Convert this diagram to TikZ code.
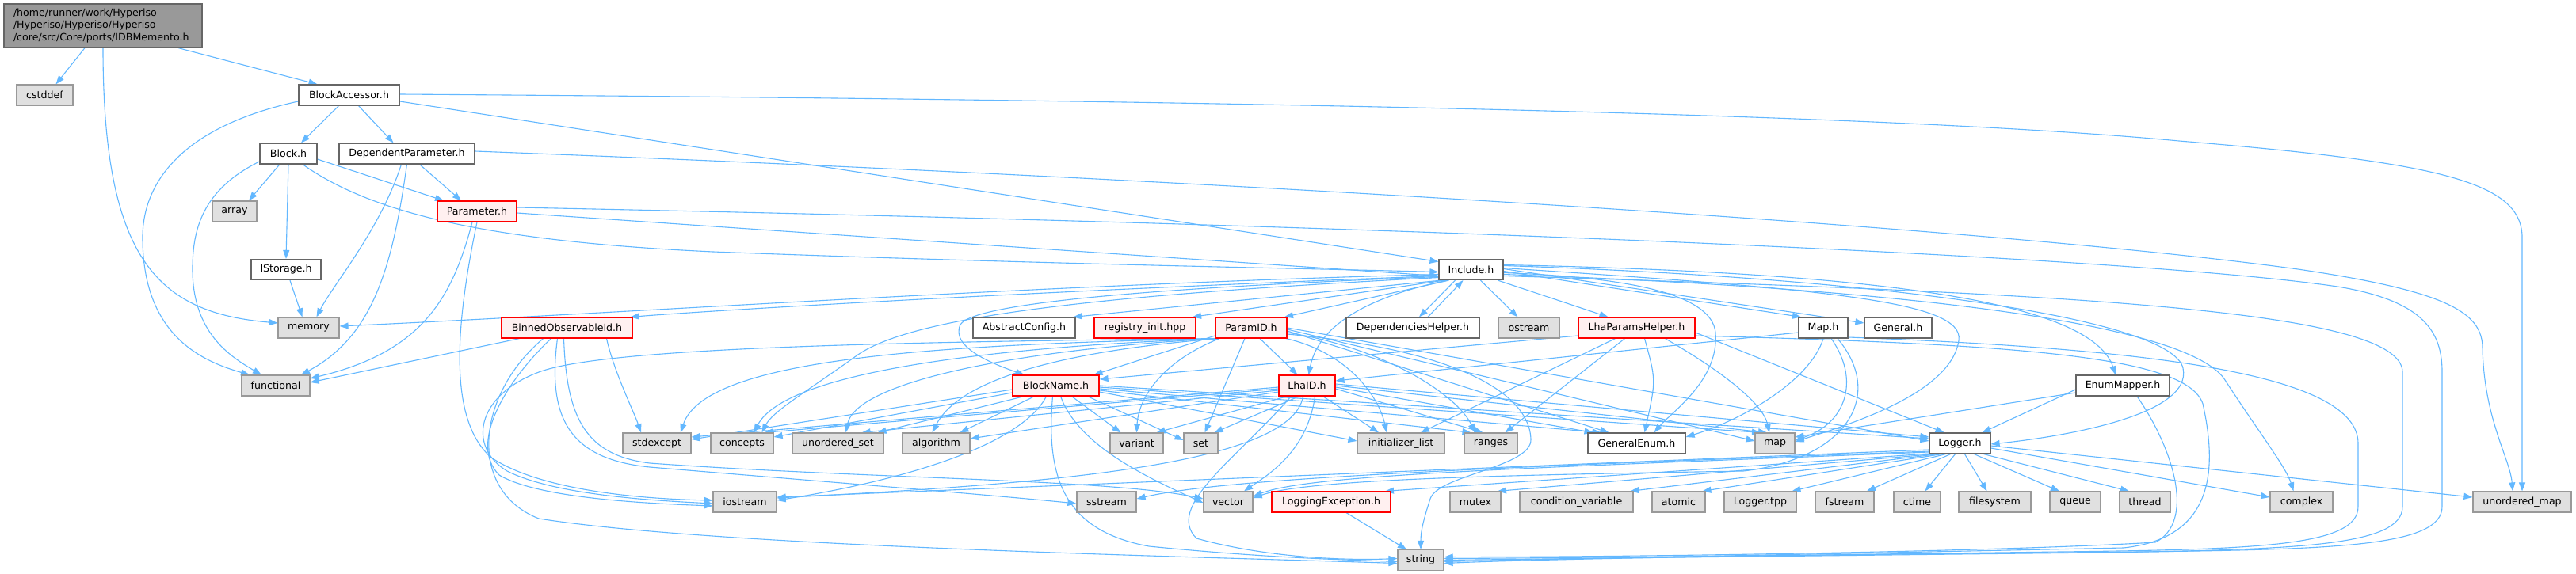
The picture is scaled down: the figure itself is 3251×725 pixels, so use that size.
\documentclass[tikz,border=0pt]{standalone}
\usepackage{fontspec}
\setmainfont{DejaVu Sans}
\usetikzlibrary{arrows.meta}
\definecolor{edgeblue}{HTML}{63B8FF}
\definecolor{redfill}{HTML}{FFF0F0}
\definecolor{grayfill}{HTML}{E0E0E0}
\definecolor{graybord}{HTML}{999999}
\definecolor{darkbord}{HTML}{666666}
\definecolor{titlefill}{HTML}{999999}
\pgfdeclarelayer{back}
\pgfdeclarelayer{edges}
\pgfsetlayers{back,edges,main}
\tikzset{
 nbox/.style={draw, line width=1.2pt, minimum height=26pt, inner sep=0pt, font=\fontsize{12.6}{15.3}\selectfont, text=black},
 wbox/.style={nbox, draw=darkbord, fill=white},
 gbox/.style={nbox, draw=graybord, fill=grayfill},
 rbox/.style={nbox, draw=red, fill=redfill},
 dep/.style={draw=edgeblue, line width=1.1pt, -{Triangle[length=11pt,width=8pt]}},
}
\begin{document}
\begin{tikzpicture}[x=1pt,y=-1pt]
\begin{pgfonlayer}{back}
\fill[white] (0,0) rectangle (3251,725);
\end{pgfonlayer}
\useasboundingbox (0,0) rectangle (3251,725);
% nodes
\node[nbox, draw=darkbord, fill=titlefill, minimum width=250pt, minimum height=55pt, align=left, text width=226pt] (title) at (130,32.5) {/home/runner/work/Hyperiso\\/Hyperiso/Hyperiso/Hyperiso\\/core/src/Core/ports/IDBMemento.h};
\node[gbox, minimum width=71pt] (cstddef) at (56.5,120) {cstddef};
\node[wbox, minimum width=127pt] (BA) at (440.5,120) {BlockAccessor.h};
\node[wbox, minimum width=72pt] (Block) at (364,194) {Block.h};
\node[wbox, minimum width=171pt] (DP) at (513.5,194) {DependentParameter.h};
\node[gbox, minimum width=56pt] (array) at (296,267) {array};
\node[rbox, minimum width=100pt] (Param) at (602,267) {Parameter.h};
\node[wbox, minimum width=88pt] (IStorage) at (361,340.5) {IStorage.h};
\node[wbox, minimum width=81pt] (Include) at (1856.5,340.5) {Include.h};
\node[gbox, minimum width=77pt] (memory) at (389.5,414) {memory};
\node[rbox, minimum width=165pt] (BOI) at (715.5,414) {BinnedObservableId.h};
\node[wbox, minimum width=129pt] (AC) at (1292.5,414) {AbstractConfig.h};
\node[rbox, minimum width=128pt] (RI) at (1445,414) {registry\_init.hpp};
\node[rbox, minimum width=90pt] (PID) at (1579,414) {ParamID.h};
\node[wbox, minimum width=168pt] (DH) at (1783,414) {DependenciesHelper.h};
\node[gbox, minimum width=77pt] (ostream) at (1929.5,414) {ostream};
\node[rbox, minimum width=147pt] (LPH) at (2065.5,414) {LhaParamsHelper.h};
\node[wbox, minimum width=62pt] (Map) at (2301,414) {Map.h};
\node[wbox, minimum width=85pt] (General) at (2395.5,414) {General.h};
\node[gbox, minimum width=86pt] (functional) at (348,487) {functional};
\node[rbox, minimum width=109pt] (BN) at (1332.5,487) {BlockName.h};
\node[rbox, minimum width=71pt] (LhaID) at (1649.5,487) {LhaID.h};
\node[wbox, minimum width=118pt] (EM) at (2679,487) {EnumMapper.h};
\node[gbox, minimum width=86pt] (stdexcept) at (829,560) {stdexcept};
\node[gbox, minimum width=79pt] (concepts) at (936.5,560) {concepts};
\node[gbox, minimum width=115pt] (uset) at (1057.5,560) {unordered\_set};
\node[gbox, minimum width=85pt] (algorithm) at (1181.5,560) {algorithm};
\node[gbox, minimum width=67pt] (variant) at (1434.5,560) {variant};
\node[gbox, minimum width=43pt] (set) at (1515.5,560) {set};
\node[gbox, minimum width=110pt] (ilist) at (1768,560) {initializer\_list};
\node[gbox, minimum width=67pt] (ranges) at (1881.5,560) {ranges};
\node[wbox, minimum width=123pt] (GE) at (2065.5,560) {GeneralEnum.h};
\node[gbox, minimum width=50pt] (map) at (2240,560) {map};
\node[wbox, minimum width=77pt] (Logger) at (2473.5,560) {Logger.h};
\node[gbox, minimum width=80pt] (iostream) at (940,634) {iostream};
\node[gbox, minimum width=75pt] (sstream) at (1396.5,634) {sstream};
\node[gbox, minimum width=62pt] (vector) at (1550,634) {vector};
\node[rbox, minimum width=150pt] (LE) at (1680,634) {LoggingException.h};
\node[gbox, minimum width=64pt] (mutex) at (1862,634) {mutex};
\node[gbox, minimum width=143pt] (cv) at (1989.5,634) {condition\_variable};
\node[gbox, minimum width=67pt] (atomic) at (2118.5,634) {atomic};
\node[gbox, minimum width=91pt] (tpp) at (2221.5,634) {Logger.tpp};
\node[gbox, minimum width=74pt] (fstream) at (2328,634) {fstream};
\node[gbox, minimum width=59pt] (ctime) at (2419.5,634) {ctime};
\node[gbox, minimum width=91pt] (filesystem) at (2517.5,634) {filesystem};
\node[gbox, minimum width=64pt] (queue) at (2619,634) {queue};
\node[gbox, minimum width=64pt] (thread) at (2707,634) {thread};
\node[gbox, minimum width=79pt] (complex) at (2904.5,634) {complex};
\node[gbox, minimum width=124pt] (umap) at (3183,634) {unordered\_map};
\node[gbox, minimum width=58pt] (string) at (1793,707.5) {string};
\begin{pgfonlayer}{edges}
% title
\draw[dep] ([xshift=-23pt]title.south) -- ([xshift=14pt]cstddef.north);
\draw[dep] ([xshift=95pt]title.south) -- ([xshift=-40pt]BA.north);
\draw[dep] (title.south) .. controls (130,330) and (200,395) .. ([yshift=6pt]memory.west);
% BlockAccessor
\draw[dep] ([yshift=-8pt]BA.west) .. controls (230,160) and (180,230) .. (180,300) .. controls (180,420) and (250,455) .. ([xshift=-33pt]functional.north);
\draw[dep] ([xshift=-13pt]BA.south) -- ([xshift=16pt]Block.north);
\draw[dep] ([xshift=12pt]BA.south) -- ([xshift=-17pt]DP.north);
\draw[dep] ([yshift=-8pt]BA.east) -- ([yshift=10pt]Include.west);
\draw[dep] ([yshift=1pt]BA.east) .. controls (1800,128) and (2450,150) .. (2750,178) .. controls (3080,205) and (3183,230) .. (3183,300) -- (umap.north);
% Block
\draw[dep] ([xshift=-11pt]Block.south) -- ([xshift=18pt]array.north);
\draw[dep] (Block.south) -- (IStorage.north);
\draw[dep] ([yshift=-7pt]Block.east) -- ([xshift=-42pt]Param.north);
\draw[dep] ([yshift=-10pt]Block.west) .. controls (255,240) and (243,290) .. (243,340) .. controls (243,420) and (290,450) .. ([xshift=-18pt]functional.north);
\draw[dep] ([xshift=18pt]Block.south) .. controls (470,270) and (620,305) .. (900,318) .. controls (1300,333) and (1600,338) .. ([yshift=-3pt]Include.west);
% DependentParameter
\draw[dep] ([xshift=16pt]DP.south) -- ([xshift=-20pt]Param.north);
\draw[dep] ([xshift=-7pt]DP.south) .. controls (480,290) and (420,360) .. ([xshift=10pt]memory.north);
\draw[dep] (DP.south) .. controls (495,340) and (470,425) .. ([xshift=32pt]functional.north);
\draw[dep] ([yshift=3pt]DP.east) .. controls (1500,225) and (2500,285) .. (2900,340) .. controls (3090,368) and (3133,395) .. (3133,440) .. controls (3135,530) and (3168,580) .. ([xshift=-12pt]umap.north);
% IStorage
\draw[dep] ([xshift=5pt]IStorage.south) -- ([xshift=-8pt]memory.north);
% Parameter
\draw[dep] ([yshift=-2pt]Param.east) -- ([yshift=-8pt]Include.west);
\draw[dep] ([yshift=5pt]Param.east) .. controls (1800,285) and (2700,325) .. (2950,362) .. controls (3060,380) and (3082,420) .. (3082,470) -- (3082,640) .. controls (3082,690) and (2950,694) .. (2700,697) .. controls (2200,702) and (1950,705) .. ([yshift=2pt]string.east);
\draw[dep] ([xshift=-6pt]Param.south) .. controls (570,380) and (530,445) .. ([yshift=9pt]functional.east);
\draw[dep] (Param.south) .. controls (575,410) and (565,530) .. (620,578) .. controls (680,618) and (800,630) .. ([yshift=2pt]iostream.west);
% Include
\draw[dep] ([yshift=-6pt]Include.west) .. controls (1300,360) and (800,395) .. ([yshift=2pt]memory.east);
\draw[dep] ([yshift=-8pt]Include.west) .. controls (1300,368) and (900,392) .. ([xshift=80pt]BOI.north);
\draw[dep] ([xshift=-38pt]Include.south) -- ([xshift=62pt]AC.north);
\draw[dep] ([xshift=-34pt]Include.south) -- ([xshift=60pt]RI.north);
\draw[dep] ([xshift=-28pt]Include.south) -- ([xshift=42pt]PID.north);
\draw[dep] ([xshift=-20pt]Include.south) -- ([xshift=8pt]DH.north);
\draw[dep] ([xshift=19pt]DH.north) -- ([xshift=-10pt]Include.south);
\draw[dep] ([xshift=12pt]Include.south) -- ([xshift=-14pt]ostream.north);
\draw[dep] ([xshift=34pt]Include.south) -- ([xshift=-36pt]LPH.north);
\draw[dep] ([yshift=-2pt]Include.east) -- ([xshift=-28pt]Map.north);
\draw[dep] ([yshift=1pt]Include.east) -- ([yshift=6pt]General.west);
\draw[dep] ([yshift=-9pt]Include.west) .. controls (1500,362) and (1230,380) .. (1212,410) .. controls (1198,440) and (1260,462) .. ([xshift=-40pt]BN.north);
\draw[dep] ([xshift=-30pt]Include.south) .. controls (1740,372) and (1665,405) .. ([xshift=2pt]LhaID.north);
\draw[dep] ([yshift=-10pt]Include.west) .. controls (1400,372) and (1150,398) .. (1080,450) .. controls (1010,500) and (975,520) .. ([xshift=25pt]concepts.north);
\draw[dep] ([yshift=-4pt]Include.east) .. controls (2050,350) and (2160,370) .. (2165,420) .. controls (2170,480) and (2110,520) .. ([xshift=22pt]GE.north);
\draw[dep] ([yshift=2pt]Include.east) .. controls (2300,365) and (2480,380) .. (2472,430) .. controls (2462,500) and (2320,540) .. ([yshift=2pt]map.east);
\draw[dep] ([yshift=5pt]Include.east) .. controls (2400,352) and (2742,405) .. (2755,465) .. controls (2768,525) and (2600,552) .. ([yshift=-1pt]Logger.east);
\draw[dep] ([yshift=6pt]Include.east) .. controls (2400,345) and (2640,385) .. ([xshift=-9pt]EM.north);
\draw[dep] ([yshift=-6pt]Include.east) .. controls (2500,368) and (2770,420) .. (2808,480) .. controls (2850,545) and (2885,590) .. ([xshift=-10pt]complex.north);
\draw[dep] ([yshift=-8pt]Include.east) .. controls (2600,370) and (3032,390) .. (3032,470) -- (3032,640) .. controls (3032,690) and (2900,694) .. (2650,698) .. controls (2200,703) and (1950,706) .. (string.east);
% ParamID
\draw[dep] ([yshift=-10pt]PID.west) -- ([xshift=48pt]BN.north);
\draw[dep] ([xshift=11pt]PID.south) -- ([xshift=-12pt]LhaID.north);
\draw[dep] ([xshift=-40pt]PID.south) .. controls (1470,455) and (1437,500) .. (variant.north);
\draw[dep] ([xshift=-8pt]PID.south) -- ([xshift=5pt]set.north);
\draw[dep] ([xshift=44pt]PID.south) .. controls (1700,445) and (1740,500) .. ([xshift=-18pt]ilist.north);
\draw[dep] ([yshift=-6pt]PID.east) .. controls (1750,440) and (1840,500) .. ([xshift=-20pt]ranges.north);
\draw[dep] ([yshift=-4pt]PID.east) -- ([xshift=-35pt]GE.north);
\draw[dep] ([yshift=-2pt]PID.east) -- ([yshift=3pt]map.west);
\draw[dep] (PID.east) -- ([yshift=3pt]Logger.west);
\draw[dep] ([xshift=-42pt]PID.south) .. controls (1200,435) and (890,450) .. ([xshift=30pt]stdexcept.north);
\draw[dep] ([xshift=-42pt]PID.south) .. controls (1250,438) and (990,470) .. ([xshift=15pt]concepts.north);
\draw[dep] ([xshift=-41pt]PID.south) .. controls (1300,440) and (1080,480) .. ([xshift=10pt]uset.north);
\draw[dep] ([xshift=-40pt]PID.south) .. controls (1380,440) and (1215,470) .. ([xshift=-5pt]algorithm.north);
\draw[dep] ([xshift=-44pt]PID.south) .. controls (1100,432) and (760,440) .. (680,470) .. controls (600,500) and (590,565) .. (640,595) .. controls (700,625) and (820,632) .. ([yshift=-2pt]iostream.west);
\draw[dep] ([yshift=-8pt]PID.east) .. controls (1820,440) and (1930,490) .. (1932,555) .. controls (1933,590) and (1815,600) .. (1805,630) .. controls (1797,655) and (1793,670) .. (string.north);
% BlockName
\draw[dep] ([yshift=-5pt]BN.west) -- ([yshift=5pt]stdexcept.east);
\draw[dep] ([yshift=-9pt]BN.west) -- ([yshift=8pt]concepts.east);
\draw[dep] ([xshift=-40pt]BN.south) -- ([xshift=50pt]uset.north);
\draw[dep] ([xshift=-27pt]BN.south) -- ([xshift=30pt]algorithm.north);
\draw[dep] ([xshift=20pt]BN.south) -- ([xshift=-20pt]variant.north);
\draw[dep] ([xshift=40pt]BN.south) -- ([yshift=4pt]set.west);
\draw[dep] ([xshift=-12pt]BN.south) .. controls (1290,560) and (1150,605) .. ([yshift=2pt]iostream.east);
\draw[dep] ([xshift=6pt]BN.south) .. controls (1360,560) and (1440,600) .. ([yshift=-1pt]vector.west);
\draw[dep] ([xshift=-4pt]BN.south) .. controls (1320,600) and (1340,670) .. (1450,690) .. controls (1600,705) and (1700,707) .. ([yshift=-2pt]string.west);
\draw[dep] ([yshift=-8pt]BN.east) -- ([yshift=3pt]ilist.west);
\draw[dep] ([yshift=-6pt]BN.east) -- ([xshift=-25pt]ranges.north);
\draw[dep] ([yshift=-4pt]BN.east) -- ([xshift=-45pt]GE.north);
\draw[dep] ([yshift=-2pt]BN.east) -- ([xshift=-18pt]map.north);
\draw[dep] (BN.east) -- ([yshift=6pt]Logger.west);
% LhaID
\draw[dep] ([yshift=-2pt]LhaID.west) -- ([yshift=8pt]stdexcept.east);
\draw[dep] ([yshift=-4pt]LhaID.west) -- ([xshift=28pt]concepts.north);
\draw[dep] ([yshift=-6pt]LhaID.west) -- ([xshift=30pt]uset.north);
\draw[dep] ([yshift=-8pt]LhaID.west) -- ([yshift=6pt]algorithm.east);
\draw[dep] ([xshift=-25pt]LhaID.south) -- ([xshift=25pt]variant.north);
\draw[dep] ([xshift=-10pt]LhaID.south) -- ([xshift=17pt]set.north);
\draw[dep] ([xshift=20pt]LhaID.south) -- ([xshift=-28pt]ilist.north);
\draw[dep] ([yshift=-4pt]LhaID.east) -- ([xshift=-10pt]ranges.north);
\draw[dep] ([yshift=-2pt]LhaID.east) -- ([xshift=-55pt]GE.north);
\draw[dep] (LhaID.east) -- ([xshift=-10pt]map.north);
\draw[dep] ([yshift=2pt]LhaID.east) -- ([yshift=8pt]Logger.west);
\draw[dep] ([xshift=-5pt]LhaID.south) .. controls (1630,590) and (1300,612) .. ([yshift=5pt]iostream.east);
\draw[dep] ([xshift=-20pt]LhaID.south) .. controls (1560,580) and (1470,640) .. (1510,680) .. controls (1600,705) and (1700,708) .. ([yshift=2pt]string.west);
\draw[dep] ([xshift=10pt]LhaID.south) .. controls (1650,570) and (1600,600) .. ([xshift=20pt]vector.north);
% LhaParamsHelper
\draw[dep] ([yshift=-10pt]LPH.west) -- ([yshift=8pt]BN.east);
\draw[dep] ([xshift=-27pt]LPH.south) -- ([xshift=25pt]ilist.north);
\draw[dep] ([xshift=-15pt]LPH.south) -- ([xshift=18pt]ranges.north);
\draw[dep] ([xshift=10pt]LPH.south) .. controls (2090,480) .. ([xshift=10pt]GE.north);
\draw[dep] ([xshift=36pt]LPH.south) .. controls (2175,470) and (2225,510) .. ([xshift=-7pt]map.north);
\draw[dep] ([yshift=-6pt]LPH.east) -- ([xshift=-20pt]Logger.north);
\draw[dep] ([yshift=-10pt]LPH.east) .. controls (2550,435) and (2760,450) .. (2780,510) .. controls (2800,600) and (2790,680) .. (2680,692) .. controls (2300,700) and (1950,706) .. ([yshift=-2pt]string.east);
% Map
\draw[dep] ([yshift=-6pt]Map.west) -- ([yshift=6pt]LhaID.east);
\draw[dep] (Map.south) .. controls (2285,480) and (2200,530) .. ([yshift=8pt]GE.east);
\draw[dep] ([xshift=10pt]Map.south) .. controls (2348,480) and (2330,535) .. ([yshift=4pt]map.east);
\draw[dep] ([xshift=18pt]Map.south) .. controls (2380,500) and (2330,580) .. (2200,595) .. controls (1900,600) and (1650,605) .. ([yshift=5pt]vector.east);
\draw[dep] ([yshift=-12pt]Map.east) .. controls (2700,440) and (2976,470) .. (2976,560) -- (2976,640) .. controls (2976,690) and (2850,694) .. (2600,697) .. controls (2200,702) and (1950,706) .. ([yshift=-4pt]string.east);
% EnumMapper
\draw[dep] ([yshift=-5pt]EM.west) -- ([xshift=28pt]Logger.north);
\draw[dep] ([yshift=-9pt]EM.west) -- ([yshift=8pt]map.east);
\draw[dep] ([xshift=18pt]EM.south) .. controls (2745,570) and (2770,660) .. (2720,685) .. controls (2500,698) and (2000,704) .. ([yshift=4pt]string.east);
% Logger
\draw[dep] ([yshift=-8pt]Logger.west) -- ([yshift=6pt]iostream.east);
\draw[dep] ([yshift=-10pt]Logger.west) .. controls (1900,590) and (1550,603) .. ([yshift=4pt]sstream.east);
\draw[dep] ([yshift=-11pt]Logger.west) .. controls (1900,592) and (1650,600) .. ([yshift=7pt]vector.east);
\draw[dep] ([yshift=-13pt]Logger.west) -- ([xshift=68pt]LE.north);
\draw[dep] ([xshift=-33pt]Logger.south) -- ([xshift=28pt]mutex.north);
\draw[dep] ([xshift=-28pt]Logger.south) -- ([xshift=68pt]cv.north);
\draw[dep] ([xshift=-23pt]Logger.south) -- ([xshift=30pt]atomic.north);
\draw[dep] ([xshift=-18pt]Logger.south) -- ([xshift=40pt]tpp.north);
\draw[dep] ([xshift=-12pt]Logger.south) -- ([xshift=28pt]fstream.north);
\draw[dep] ([xshift=-6pt]Logger.south) -- ([xshift=10pt]ctime.north);
\draw[dep] ([xshift=6pt]Logger.south) -- ([xshift=-10pt]filesystem.north);
\draw[dep] ([xshift=18pt]Logger.south) -- ([xshift=-20pt]queue.north);
\draw[dep] ([xshift=30pt]Logger.south) -- ([xshift=-20pt]thread.north);
\draw[dep] ([yshift=-6pt]Logger.east) -- ([yshift=6pt]complex.west);
\draw[dep] ([yshift=-3pt]Logger.east) -- ([yshift=6pt]umap.west);
% BinnedObservableId
\draw[dep] ([xshift=-60pt]BOI.south) -- ([yshift=4pt]functional.east);
\draw[dep] ([xshift=50pt]BOI.south) .. controls (775,470) and (800,520) .. ([xshift=-20pt]stdexcept.north);
\draw[dep] ([xshift=-20pt]BOI.south) .. controls (640,480) and (590,560) .. (630,600) .. controls (680,630) and (820,636) .. ([yshift=-5pt]iostream.west);
\draw[dep] ([xshift=-12pt]BOI.south) .. controls (690,530) and (720,580) .. (820,590) .. controls (1000,605) and (1250,625) .. ([yshift=-2pt]sstream.west);
\draw[dep] ([xshift=-4pt]BOI.south) .. controls (715,530) and (740,575) .. (820,585) .. controls (1100,605) and (1400,605) .. ([yshift=4pt]vector.west);
\draw[dep] ([xshift=-30pt]BOI.south) .. controls (600,500) and (590,620) .. (680,655) .. controls (900,690) and (1500,703) .. ([yshift=-4pt]string.west);
% LoggingException
\draw[dep] ([xshift=19pt]LE.south) -- ([xshift=-18pt]string.north);
\end{pgfonlayer}
\end{tikzpicture}
\end{document}
